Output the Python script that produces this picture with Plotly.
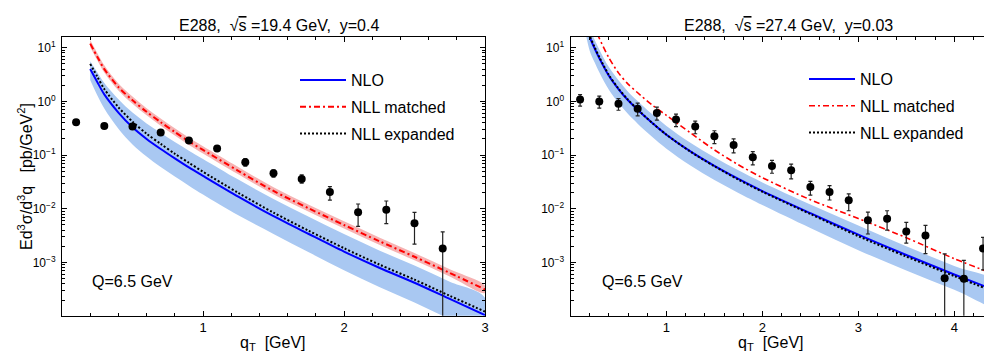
import plotly.graph_objects as go

# ---------------- E288, sqrt(s)=19.4 GeV, y=0.4 ----------------
data_qt_l = [0.1, 0.3, 0.5, 0.7, 0.9, 1.1, 1.3, 1.5, 1.7, 1.9, 2.1, 2.3, 2.5, 2.7]
data_xs_l = [0.41, 0.35, 0.34, 0.265, 0.188, 0.133, 0.074, 0.046, 0.036, 0.0206,
             0.0086, 0.0096, 0.0054, 0.00183]
data_up_l = [0.02, 0.015, 0.015, 0.012, 0.01, 0.008, 0.012, 0.007, 0.007, 0.0054,
             0.0037, 0.0044, 0.0032, 0.0019]
data_dn_l = [0.02, 0.015, 0.015, 0.012, 0.01, 0.008, 0.012, 0.007, 0.006, 0.0061,
             0.0039, 0.0043, 0.0032, 0.00182]

qt_l = [0.2, 0.25, 0.3, 0.4, 0.5, 0.6, 0.7, 0.8, 0.9, 1.0, 1.25, 1.5, 1.75, 2.0,
        2.25, 2.5, 2.75, 3.0]
nlo_l = [4.0, 2.3, 1.35, 0.62, 0.33, 0.20, 0.13, 0.087, 0.059, 0.041, 0.0168,
         0.0073, 0.0034, 0.0016, 0.00080, 0.00042, 0.00021, 0.000105]
nlo_hi_l = [5.6, 3.5, 2.2, 1.10, 0.62, 0.39, 0.26, 0.175, 0.121, 0.085, 0.035,
            0.0152, 0.0071, 0.0034, 0.00168, 0.00088, 0.00044, 0.00022]
nlo_lo_l = [2.5, 1.3, 0.74, 0.31, 0.158, 0.094, 0.060, 0.040, 0.027, 0.0185,
            0.0076, 0.0034, 0.00155, 0.00072, 0.00035, 0.00018, 0.000088, 0.000043]
nll_exp_l = [5.0, 2.9, 1.7, 0.78, 0.42, 0.25, 0.162, 0.106, 0.072, 0.049, 0.0198,
             0.0085, 0.0039, 0.00185, 0.00092, 0.00048, 0.00024, 0.000122]
nll_mat_l = [11.9, 6.8, 4.0, 1.85, 1.05, 0.64, 0.41, 0.27, 0.18, 0.125, 0.051,
             0.0215, 0.0102, 0.0050, 0.0025, 0.00128, 0.00064, 0.000315]
nll_mat_hi_l = [13.9, 8.0, 4.7, 2.16, 1.23, 0.75, 0.48, 0.316, 0.21, 0.146, 0.060,
                0.0252, 0.0119, 0.00585, 0.00293, 0.0015, 0.00075, 0.00037]
nll_mat_lo_l = [10.2, 5.85, 3.44, 1.59, 0.90, 0.55, 0.353, 0.232, 0.155, 0.1075,
                0.0439, 0.0185, 0.0088, 0.0043, 0.00215, 0.0011, 0.00055, 0.000271]

# ---------------- E288, sqrt(s)=27.4 GeV, y=0.03 ----------------
data_qt_r = [0.1, 0.3, 0.5, 0.7, 0.9, 1.1, 1.3, 1.5, 1.7, 1.9, 2.1, 2.3, 2.5, 2.7,
             2.9, 3.1, 3.3, 3.5, 3.7, 3.9, 4.1, 4.3]
data_xs_r = [1.08, 1.0, 0.905, 0.73, 0.61, 0.46, 0.34, 0.224, 0.155, 0.091, 0.063,
             0.052, 0.0255, 0.0206, 0.0145, 0.0061, 0.0065, 0.0038, 0.0032,
             0.00051, 0.0005, 0.00183]
data_up_r = [0.26, 0.25, 0.22, 0.2, 0.17, 0.12, 0.09, 0.06, 0.045, 0.025, 0.017,
             0.016, 0.007, 0.0064, 0.0045, 0.0026, 0.0027, 0.0018, 0.0017,
             0.00094, 0.0006, 0.0011]
data_dn_r = [0.26, 0.25, 0.22, 0.19, 0.16, 0.12, 0.09, 0.06, 0.045, 0.025, 0.017,
             0.016, 0.0075, 0.006, 0.0053, 0.0027, 0.0025, 0.0015, 0.00174,
             0.000505, 0.000499, 0.0011]

qt_r = [0.15, 0.2, 0.25, 0.3, 0.4, 0.5, 0.6, 0.7, 0.85, 1.0, 1.25, 1.5, 1.75, 2.0,
        2.5, 3.0, 3.5, 4.0, 4.5]
nlo_r = [40, 16, 9.8, 6.4, 3.0, 1.7, 1.05, 0.70, 0.40, 0.24, 0.117, 0.063, 0.036,
         0.0214, 0.0083, 0.0033, 0.00138, 0.0006, 0.00027]
nlo_hi_r = [58, 23, 14.2, 9.3, 4.35, 2.47, 1.52, 1.02, 0.58, 0.35, 0.170, 0.091,
            0.052, 0.031, 0.0121, 0.0049, 0.0020, 0.00086, 0.00039]
nlo_lo_r = [22, 8.8, 5.4, 3.5, 1.65, 0.94, 0.58, 0.385, 0.22, 0.132, 0.064, 0.0345,
            0.0198, 0.0118, 0.0044, 0.0017, 0.00071, 0.00031, 0.00014]
nll_exp_r = [43, 17, 10.4, 6.7, 3.1, 1.74, 1.07, 0.71, 0.40, 0.24, 0.116, 0.062,
             0.035, 0.0208, 0.0080, 0.0031, 0.00129, 0.00056, 0.00025]
nll_mat_r = [100, 40, 24, 15, 6.5, 3.4, 2.1, 1.45, 0.86, 0.55, 0.26, 0.125, 0.066,
             0.038, 0.0148, 0.0066, 0.0029, 0.00118, 0.00053]

y_tick_vals = [1e-3, 1e-2, 1e-1, 1, 10]
y_tick_text = ["10<sup>−3</sup>", "10<sup>−2</sup>", "10<sup>−1</sup>",
               "10<sup>0</sup>", "10<sup>1</sup>"]

FONT = "Liberation Sans, Arial, Helvetica, sans-serif"
BLUE = "#0000ff"
RED = "#ff0000"
BAND_BLUE = "#a9c8f2"
BAND_RED = "#f6b3b3"

fig = go.Figure()


def band(x, hi, lo, color, xa, ya, group):
    fig.add_trace(go.Scatter(
        x=list(x) + list(x)[::-1], y=list(hi) + list(lo)[::-1],
        fill="toself", fillcolor=color, line=dict(width=0, shape="spline"),
        mode="lines", hoverinfo="skip", showlegend=False,
        legendgroup=group, xaxis=xa, yaxis=ya))


def curve(x, y, name, color, dash, width, xa, ya, legend, group):
    fig.add_trace(go.Scatter(
        x=x, y=y, name=name, mode="lines",
        line=dict(color=color, dash=dash, width=width, shape="spline", smoothing=0.8),
        xaxis=xa, yaxis=ya, legend=legend, legendgroup=group))


def points(x, y, up, dn, xa, ya):
    fig.add_trace(go.Scatter(
        x=x, y=y, mode="markers", showlegend=False,
        marker=dict(color="black", size=8),
        error_y=dict(type="data", array=up, arrayminus=dn, color="#222222",
                     thickness=1.2, width=2),
        xaxis=xa, yaxis=ya))


# left panel
band(qt_l, nlo_hi_l, nlo_lo_l, BAND_BLUE, "x", "y", "l_nlo")
band(qt_l, nll_mat_hi_l, nll_mat_lo_l, BAND_RED, "x", "y", "l_mat")
curve(qt_l, nlo_l, "NLO", BLUE, "solid", 2, "x", "y", "legend", "l_nlo")
curve(qt_l, nll_mat_l, "NLL matched", RED, "6px,3px,2px,3px", 2, "x", "y", "legend", "l_mat")
curve(qt_l, nll_exp_l, "NLL expanded", "black", "2px,2px", 2, "x", "y", "legend", "l_exp")
points(data_qt_l, data_xs_l, data_up_l, data_dn_l, "x", "y")

# right panel
band(qt_r, nlo_hi_r, nlo_lo_r, BAND_BLUE, "x2", "y2", "r_nlo")
curve(qt_r, nlo_r, "NLO", BLUE, "solid", 2, "x2", "y2", "legend2", "r_nlo")
curve(qt_r, nll_mat_r, "NLL matched", RED, "6px,3px,2px,3px", 1.6, "x2", "y2", "legend2", "r_mat")
curve(qt_r, nll_exp_r, "NLL expanded", "black", "2px,2px", 2, "x2", "y2", "legend2", "r_exp")
points(data_qt_r, data_xs_r, data_up_r, data_dn_r, "x2", "y2")

minor_y = [m * 10.0 ** k for k in range(-4, 2) for m in range(2, 10)]

W, H = 984, 354


def px(x):
    return x / W


def py(y):
    return 1 - y / H


xaxis_common = dict(
    showline=True, linecolor="black", linewidth=1, ticks="inside", ticklen=5,
    tickcolor="black", tickwidth=1, showgrid=False, zeroline=False,
    tickfont=dict(size=13, color="black"), automargin=False,
    minor=dict(dtick=0.2, ticks="inside", ticklen=3, tickcolor="black",
               showgrid=False),
)
yaxis_common = dict(
    type="log", range=[-3.99, 1.205], showline=True, linecolor="black", linewidth=1,
    ticks="inside", ticklen=5, tickcolor="black", showgrid=False, zeroline=False,
    tickvals=y_tick_vals, ticktext=y_tick_text, tickfont=dict(size=12, color="black"),
    automargin=False, ticklabelstandoff=3,
    minor=dict(tickvals=minor_y, ticks="inside", ticklen=3, tickcolor="black",
               showgrid=False),
)

ydom = [py(315.7), py(36.7)]

fig.update_layout(
    width=W, height=H, margin=dict(l=0, r=0, t=0, b=0),
    paper_bgcolor="white", plot_bgcolor="white",
    font=dict(family=FONT, color="black", size=13),
    xaxis=dict(domain=[px(62), px(485)], range=[0, 3], tickvals=[1, 2, 3],
               mirror="ticks", anchor="y", **xaxis_common),
    yaxis=dict(domain=ydom, mirror="ticks", anchor="x", **yaxis_common),
    xaxis2=dict(domain=[px(570.5), 1.0], range=[0, 4.31], tickvals=[1, 2, 3, 4],
                mirror="ticks", anchor="y2", **xaxis_common),
    yaxis2=dict(domain=ydom, mirror=False, anchor="x2", **yaxis_common),
    legend=dict(x=px(295), y=py(63), xanchor="left", yanchor="top",
                bgcolor="rgba(0,0,0,0)", font=dict(size=16), tracegroupgap=3,
                itemwidth=46),
    legend2=dict(x=px(804), y=py(62), xanchor="left", yanchor="top",
                 bgcolor="rgba(0,0,0,0)", font=dict(size=16), tracegroupgap=3,
                 itemwidth=46),
)

annotations = [
    dict(x=px(279), y=py(26),
         text="E288,  √<span style='text-decoration:overline'>s</span> =19.4 GeV,  y=0.4"),
    dict(x=px(788), y=py(26),
         text="E288,  √<span style='text-decoration:overline'>s</span> =27.4 GeV,  y=0.03"),
    dict(x=px(90), y=py(281), text="Q=6.5 GeV", xanchor="left"),
    dict(x=px(600), y=py(281), text="Q=6.5 GeV", xanchor="left"),
    dict(x=px(273), y=py(343), text="q<sub>T</sub>  [GeV]"),
    dict(x=px(771), y=py(343), text="q<sub>T</sub>  [GeV]"),
    dict(x=px(25), y=py(177), textangle=-90,
         text="Ed<sup>3</sup>σ/d<sup>3</sup>q   [pb/GeV<sup>2</sup>]"),
]
for a in annotations:
    a.setdefault("xanchor", "center")
    fig.add_annotation(xref="paper", yref="paper", yanchor="middle", showarrow=False,
                       font=dict(size=16, family=FONT, color="black"), **a)

fig.write_html("out.html")
